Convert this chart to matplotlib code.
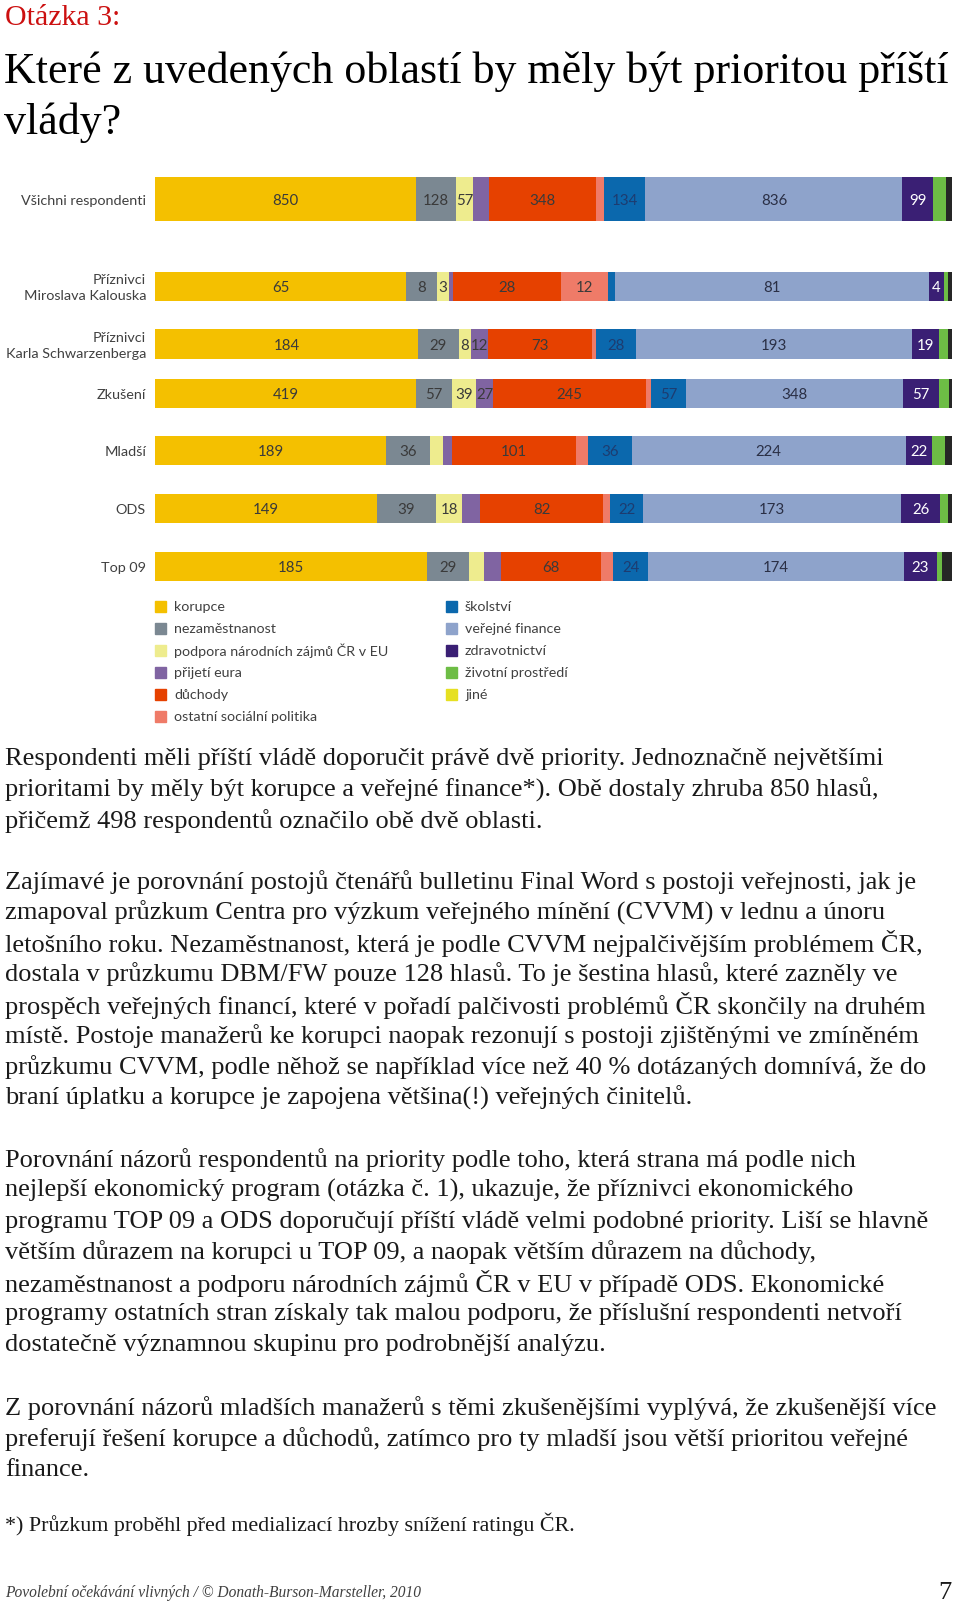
import matplotlib

matplotlib.use("Agg")
import matplotlib.pyplot as plt
from matplotlib.patches import Rectangle

W, H = 960, 1606

# --- data -------------------------------------------------------------------
groups = [
    "Všichni respondenti",
    "Příznivci\nMiroslava Kalouska",
    "Příznivci\nKarla Schwarzenberga",
    "Zkušení",
    "Mladší",
    "ODS",
    "Top 09",
]

categories = [
    "korupce",
    "nezaměstnanost",
    "podpora národních zájmů ČR v EU",
    "přijetí eura",
    "důchody",
    "ostatní sociální politika",
    "školství",
    "veřejné finance",
    "zdravotnictví",
    "životní prostředí",
    "jiné",
]

korupce = [850, 65, 184, 419, 189, 149, 185]
nezamestnanost = [128, 8, 29, 57, 36, 39, 29]
podpora_eu = [57, 3, 8, 39, 11, 18, 10]
prijeti_eura = [52, 1, 12, 27, 7, 12, 12]
duchody = [348, 28, 73, 245, 101, 82, 68]
ostatni_socialni = [26, 12, 3, 8, 10, 5, 8]
skolstvi = [134, 2, 28, 57, 36, 22, 24]
verejne_finance = [836, 81, 193, 348, 224, 173, 174]
zdravotnictvi = [99, 4, 19, 57, 22, 26, 23]
zivotni_prostredi = [42, 1, 6, 16, 10, 5, 3]
jine = [20, 1, 3, 5, 6, 3, 7]

series = [korupce, nezamestnanost, podpora_eu, prijeti_eura, duchody,
          ostatni_socialni, skolstvi, verejne_finance, zdravotnictvi,
          zivotni_prostredi, jine]

# which segments carry a number label (per category, per group)
ALL, NONE = [True] * 7, [False] * 7
shown = [
    ALL,
    ALL,
    [True, True, True, True, False, True, False],
    [False, False, True, True, False, False, False],
    ALL,
    [False, True, False, False, False, False, False],
    [True, False, True, True, True, True, True],
    ALL,
    ALL,
    NONE,
    NONE,
]

# --- styles -----------------------------------------------------------------
bar_colors = ["#f4c000", "#7b8892", "#eeec8e", "#8064a2", "#e64100", "#ef7b68",
              "#0b68ad", "#8ea3cb", "#3a1f74", "#6dbd45", "#262626"]
legend_colors = bar_colors[:-1] + ["#e6e021"]
label_colors = ["#3a3a3a"] * 6 + ["#1d3c70", "#2a2f45", "white", "#3a3a3a", "white"]

row_y = [200, 287, 345, 394, 451, 509, 567]
row_h = [44, 29, 30, 29, 29, 29, 29]

SANS = ["Lato", "DejaVu Sans"]
SERIF = ["Liberation Serif", "DejaVu Serif"]

fig = plt.figure(figsize=(W / 100, H / 100), dpi=100)
fig.patch.set_facecolor("white")


def px(x, y):
    return x / W, 1 - y / H


def text(x, y, s, **kw):
    fx, fy = px(x, y)
    fig.text(fx, fy, s, **kw)


# --- header -----------------------------------------------------------------
text(5, 18, "Otázka 3:", color="#cc1010", fontsize=21.5, family=SERIF, va="center")
text(4, 72, "Které z uvedených oblastí by měly být prioritou příští",
     color="black", fontsize=31.7, family=SERIF, va="center")
text(4, 123, "vlády?", color="black", fontsize=31.7, family=SERIF, va="center")

# --- stacked bars ------------------------------------------------------------
ax = fig.add_axes([155 / W, 1 - 595 / H, 797 / W, (595 - 165) / H])
ax.set_xlim(0, 1)
ax.set_ylim(595, 165)
ax.axis("off")

totals = [sum(s[g] for s in series) for g in range(len(groups))]
lefts = [0.0] * len(groups)
for ci, vals in enumerate(series):
    widths = [v / t for v, t in zip(vals, totals)]
    ax.barh(row_y, widths, left=lefts, height=row_h, color=bar_colors[ci],
            linewidth=0)
    for g, (v, w) in enumerate(zip(vals, widths)):
        if shown[ci][g]:
            ax.text(lefts[g] + w / 2, row_y[g] + 1, str(v), ha="center",
                    va="center", fontsize=10.8, family=SANS,
                    color=label_colors[ci])
    lefts = [l + w for l, w in zip(lefts, widths)]

for g, name in enumerate(groups):
    text(146, row_y[g] + 1, name, ha="right", va="center", fontsize=10.4,
         family=SANS, color="#404040", linespacing=1.3,
         multialignment="right")

# --- legend -----------------------------------------------------------------
for i, (name, col) in enumerate(zip(categories, legend_colors)):
    c, r = divmod(i, 6)
    x0 = [155, 446][c]
    y0 = 607 + 22 * r
    fx, fy = px(x0, y0 + 5.5)
    fig.patches.append(Rectangle((fx, fy), 11 / W, 11 / H, color=col,
                                 transform=fig.transFigure, figure=fig))
    text(x0 + 19, y0, name, va="center", fontsize=10.3, family=SANS,
         color="#404040")

# --- body text ---------------------------------------------------------------
paragraphs = [
    (759, [
        "Respondenti měli příští vládě doporučit právě dvě priority. Jednoznačně největšími",
        "prioritami by měly být korupce a veřejné finance*). Obě dostaly zhruba 850 hlasů,",
        "přičemž 498 respondentů označilo obě dvě oblasti.",
    ]),
    (882, [
        "Zajímavé je porovnání postojů čtenářů bulletinu Final Word s postoji veřejnosti, jak je",
        "zmapoval průzkum Centra pro výzkum veřejného mínění (CVVM) v lednu a únoru",
        "letošního roku. Nezaměstnanost, která je podle CVVM nejpalčivějším problémem ČR,",
        "dostala v průzkumu DBM/FW pouze 128 hlasů. To je šestina hlasů, které zazněly ve",
        "prospěch veřejných financí, které v pořadí palčivosti problémů ČR skončily na druhém",
        "místě. Postoje manažerů ke korupci naopak rezonují s postoji zjištěnými ve zmíněném",
        "průzkumu CVVM, podle něhož se například více než 40 % dotázaných domnívá, že do",
        "braní úplatku a korupce je zapojena většina(!) veřejných činitelů.",
    ]),
    (1160, [
        "Porovnání názorů respondentů na priority podle toho, která strana má podle nich",
        "nejlepší ekonomický program (otázka č. 1), ukazuje, že příznivci ekonomického",
        "programu TOP 09 a ODS doporučují příští vládě velmi podobné priority. Liší se hlavně",
        "větším důrazem na korupci u TOP 09, a naopak větším důrazem na důchody,",
        "nezaměstnanost a podporu národních zájmů ČR v EU v případě ODS. Ekonomické",
        "programy ostatních stran získaly tak malou podporu, že příslušní respondenti netvoří",
        "dostatečně významnou skupinu pro podrobnější analýzu.",
    ]),
    (1408, [
        "Z porovnání názorů mladších manažerů s těmi zkušenějšími vyplývá, že zkušenější více",
        "preferují řešení korupce a důchodů, zatímco pro ty mladší jsou větší prioritou veřejné",
        "finance.",
    ]),
]
for y0, lines in paragraphs:
    for k, line in enumerate(lines):
        text(5, y0 + 30.8 * k, line, va="center", fontsize=19, family=SERIF,
             color="#1a1a1a")

text(5, 1524, "*) Průzkum proběhl před medializací hrozby snížení ratingu ČR.",
     va="center", fontsize=15.8, family=SERIF, color="#1a1a1a")

# --- footer -----------------------------------------------------------------
text(5, 1593, "Povolební očekávání vlivných / © Donath-Burson-Marsteller, 2010",
     va="center", fontsize=11.2, family=SERIF, style="italic", color="#404040")
text(952, 1593, "7", ha="right", va="center", fontsize=19, family=SERIF,
     color="#1a1a1a")

fig.savefig("out.png", dpi=100, facecolor="white")
